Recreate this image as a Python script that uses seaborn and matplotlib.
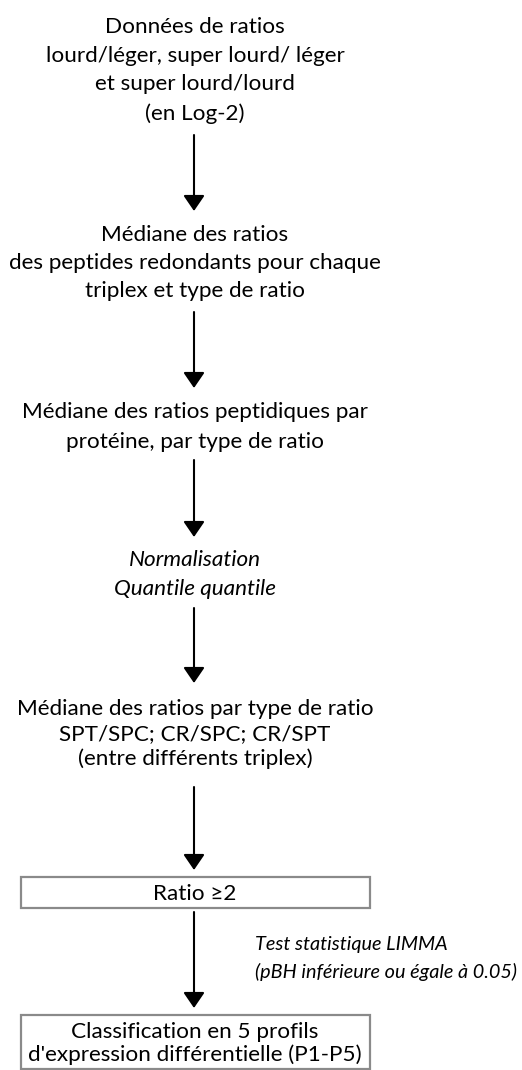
import matplotlib
matplotlib.use("Agg")
import matplotlib.pyplot as plt
import seaborn as sns
from matplotlib.patches import Rectangle

sns.set_theme(style="white")
plt.rcParams['font.family'] = ['Lato', 'DejaVu Sans']

# ---- content (texts of the flowchart) ----
block1 = ["Données de ratios", "lourd/léger, super lourd/ léger", "et super lourd/lourd", "(en Log-2)"]
block2 = ["Médiane des ratios", "des peptides redondants pour chaque", "triplex et type de ratio"]
block3 = ["Médiane des ratios peptidiques par", "protéine, par type de ratio"]
block4 = ["Normalisation", "Quantile quantile"]
block5 = ["Médiane des ratios par type de ratio", "SPT/SPC; CR/SPC; CR/SPT", "(entre différents triplex)"]
box1_text = ["Ratio ≥2"]
limma_text = ["Test statistique LIMMA", "(pBH inférieure ou égale à 0.05)"]
box2_text = ["Classification en 5 profils", "d'expression différentielle (P1-P5)"]

# ---- layout (pixel coordinates, y downwards) ----
W, H = 522, 1070
fig = plt.figure(figsize=(W / 100, H / 100), dpi=100)
ax = fig.add_axes([0, 0, 1, 1])
ax.set_xlim(0, W)
ax.set_ylim(H, 0)
ax.axis("off")

fig.canvas.draw()
r = fig.canvas.get_renderer()

def fit_size(s, target, style="normal"):
    t = ax.text(0, 0, s, fontsize=10, style=style)
    w = t.get_window_extent(r).width
    t.remove()
    return 10 * target / w

FS = fit_size(block5[0], 358)
FS_LIMMA = fit_size(limma_text[1], 262, style="italic")

CX = 195
AX = 194

def draw_block(lines, baselines, x=CX, ha="center", style="normal", fs=None):
    for s, y in zip(lines, baselines):
        ax.text(x, y, s, ha=ha, va="baseline", fontsize=fs or FS, style=style, color="black")

draw_block(block1, [33, 62, 90, 120])
draw_block(block2, [241, 269, 297])
draw_block(block3, [418, 448])
draw_block(block4, [566, 595], style="italic")
draw_block(block5, [715, 740, 765])

arrows = [(135, 211), (312, 388), (460, 537), (608, 683), (787, 870), (912, 1008)]
for y0, y1 in arrows:
    ax.annotate("", xy=(AX, y1), xytext=(AX, y0),
                arrowprops=dict(arrowstyle="-|>,head_width=0.65,head_length=0.95",
                                lw=1.5, color="black", shrinkA=0, shrinkB=0,
                                mutation_scale=10))

# boxes
BL, BR = 21, 370
ax.add_patch(Rectangle((BL, 877), BR - BL, 31, fill=False, ec="#8a8a8a", lw=1.6))
ax.add_patch(Rectangle((BL, 1015), BR - BL, 54, fill=False, ec="#8a8a8a", lw=1.6))
draw_block(box1_text, [900], x=CX)
draw_block(box2_text, [1038, 1061], x=CX)
draw_block(limma_text, [950, 978], x=255, ha="left", style="italic", fs=FS_LIMMA)

fig.savefig("out.png", dpi=100, facecolor="white")
